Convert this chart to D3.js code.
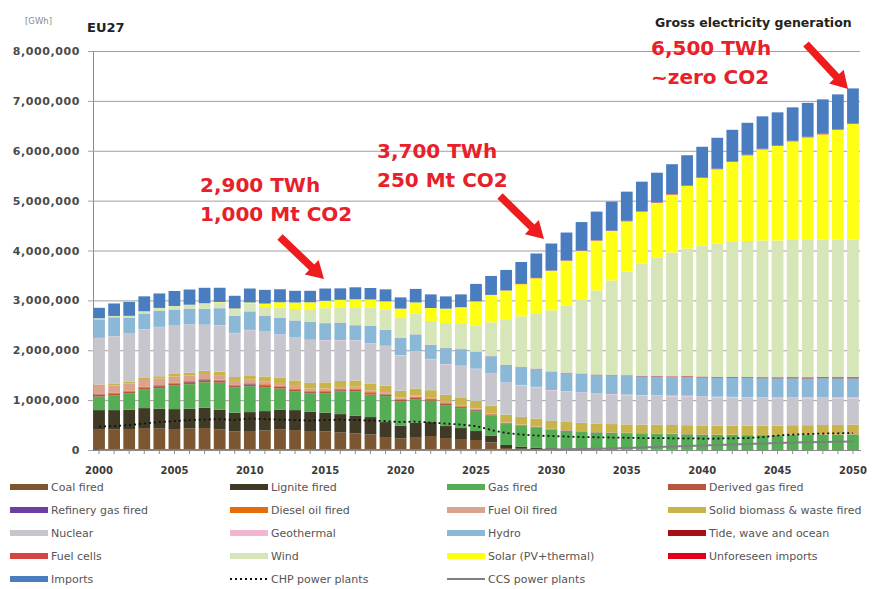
<!DOCTYPE html>
<html><head><meta charset="utf-8">
<script src="https://cdn.jsdelivr.net/npm/d3@7"></script>
<style>body{margin:0;background:#fff}</style>
</head><body><svg id="c" width="882" height="589"></svg>
<script>
// ---------- DATA (TWh; axis is in GWh) ----------
const years = [2000,2001,2002,2003,2004,2005,2006,2007,2008,2009,2010,2011,2012,2013,2014,2015,2016,2017,2018,2019,2020,2021,2022,2023,2024,2025,2026,2027,2028,2029,2030,2031,2032,2033,2034,2035,2036,2037,2038,2039,2040,2041,2042,2043,2044,2045,2046,2047,2048,2049,2050];
const xTickLabels = [2000,2005,2010,2015,2020,2025,2030,2035,2040,2045,2050];
const yTicks = [0,1000000,2000000,3000000,4000000,5000000,6000000,7000000,8000000];

const coal = [420,410,420,440,430,420,430,440,410,370, 380,390,410,400,380,370,350,330,310,260, 230,260,280,240,220,200,150,40,25,15, 10,5,3,0,0,0,0,0,0,0, 0,0,0,0,0,0,0,0,0,0,0];
const lignite = [380,390,390,400,400,400,400,410,400,380, 380,390,400,400,390,380,370,360,350,300, 260,290,280,240,220,180,140,60,45,35, 25,20,15,10,8,6,5,4,3,2, 1,0,0,0,0,0,0,0,0,0,0];
const gas = [270,290,320,370,410,470,490,510,540,500, 520,480,420,380,360,390,450,490,450,520, 490,470,430,420,400,400,400,420,410,400, 370,360,350,340,335,330,325,320,315,310, 305,300,300,295,295,295,300,300,305,305,310];
const derivedGas = [40,40,40,40,40,40,40,40,38,32, 36,36,34,32,32,32,30,30,30,28, 24,26,24,22,20,18,15,12,10,8, 6,5,4,3,2,2,2,2,2,2, 1,1,1,1,1,1,1,1,1,1,1];
const refineryGas = [8,8,8,8,8,8,8,8,8,8, 8,8,8,8,8,8,8,8,8,8, 8,8,8,8,8,6,6,5,5,4, 4,3,3,3,3,3,3,3,3,3, 3,2,2,2,2,2,2,2,2,2,2];
const dieselOil = [15,15,15,15,15,15,15,15,15,15, 15,15,15,15,15,15,15,15,15,15, 15,14,13,12,12,12,10,8,6,5, 4,3,3,3,3,2,2,2,2,2, 2,2,2,2,2,2,2,2,2,2,2];
const fuelOil = [150,140,140,130,130,120,110,100,90,80, 70,60,55,50,45,40,38,36,34,30, 25,25,24,22,20,18,15,12,10,8, 6,5,4,3,3,2,2,2,2,2, 2,2,2,2,2,2,2,2,2,2,2];
const biomass = [30,32,36,42,46,52,58,64,70,78, 88,95,105,110,115,120,122,125,128,132, 135,138,140,142,145,148,150,152,154,156, 158,160,162,164,166,168,170,172,174,176, 178,180,182,184,186,188,190,190,190,190,190];
const nuclear = [930,950,960,975,985,965,960,920,925,880, 905,895,865,855,860,840,815,800,805,790, 710,740,620,610,640,640,640,635,630,625, 610,605,600,595,590,585,580,580,575,575, 570,565,560,560,555,550,545,540,540,535,530];
const geothermal = [5,5,5,5,5,5,6,6,6,6, 6,6,6,6,6,7,7,7,7,7, 7,7,7,7,7,8,8,9,9,10, 10,11,11,12,12,13,13,14,14,15, 15,16,16,17,17,18,18,19,19,20,20];
const hydro = [370,380,320,310,320,320,310,320,340,340, 370,310,330,340,360,340,350,300,350,320, 340,340,280,320,330,340,345,350,355,360, 365,365,370,370,370,375,375,375,375,380, 380,380,380,380,380,380,380,380,380,380,380];
const tide = [1,1,1,1,1,1,1,1,1,1, 1,1,1,1,1,1,1,1,1,1, 1,1,1,1,1,1,2,2,2,3, 3,4,4,5,5,6,6,7,7,8, 8,9,10,10,11,12,12,13,14,14,15];
const fuelCells = [0,0,0,0,0,0,0,0,0,0, 0,0,0,0,0,0,0,0,0,0, 0,0,0,0,0,1,1,2,2,3, 3,4,4,5,5,6,6,7,7,8, 8,8,9,9,10,10,11,11,12,12,13];
const wind = [22,27,35,44,58,70,82,104,118,133, 149,180,204,230,250,300,305,360,370,400, 400,420,480,500,520,528,678,913,1017,1108, 1226,1350,1487,1687,1898,2082,2251,2372,2481,2557, 2627,2675,2706,2728,2739,2740,2747,2750,2753,2757,2755];
const solar = [0,0,0,1,1,2,3,4,7,14, 30,70,110,130,140,150,150,160,160,170, 190,220,260,290,320,480,548,577,646,705, 794,894,973,998,992,1007,1042,1096,1161,1256, 1360,1490,1610,1720,1830,1900,1980,2060,2110,2205,2320];
const unforeseen = [0,0,0,0,0,0,0,0,0,0, 0,0,0,0,0,0,0,0,0,0, 0,0,0,0,0,0,2,3,4,5, 6,6,7,7,8,8,8,9,9,9, 10,10,10,10,10,10,10,10,10,10,10];
const imports = [210,250,280,300,290,300,305,310,285,255, 280,275,260,235,230,245,230,240,230,240, 225,271,273,246,257,350,380,410,440,490, 540,560,570,575,580,585,590,595,600,605, 610,620,630,640,650,660,670,680,690,695,700];
const chp = [470,480,500,530,560,580,600,610,620,600, 630,620,610,600,590,600,610,600,590,580, 560,570,550,530,510,480,400,340,310,290, 280,270,260,255,250,245,240,240,235,235, 230,230,235,240,260,290,310,320,330,335,340];
const ccs = [0,0,0,0,0,0,0,0,0,0, 0,0,0,0,0,0,0,0,0,0, 0,0,0,0,0,0,0,0,0,0, 10,15,20,25,30,40,50,60,70,80, 90,100,110,120,130,140,150,155,160,165,170];

const seriesDefs = [
  {key:"coal", label:"Coal fired", values:coal, color:"#7b5630"},
  {key:"lignite", label:"Lignite fired", values:lignite, color:"#3e3a26"},
  {key:"gas", label:"Gas fired", values:gas, color:"#55ad55"},
  {key:"derived", label:"Derived gas fired", values:derivedGas, color:"#b8573e"},
  {key:"refinery", label:"Refinery gas fired", values:refineryGas, color:"#6b3fa0"},
  {key:"diesel", label:"Diesel oil fired", values:dieselOil, color:"#e46c0a"},
  {key:"fueloil", label:"Fuel Oil fired", values:fuelOil, color:"#d9a38e"},
  {key:"biomass", label:"Solid biomass & waste fired", values:biomass, color:"#c8b44a"},
  {key:"nuclear", label:"Nuclear", values:nuclear, color:"#c6c6cc"},
  {key:"geothermal", label:"Geothermal", values:geothermal, color:"#f2b6d2"},
  {key:"hydro", label:"Hydro", values:hydro, color:"#8cb8d8"},
  {key:"tide", label:"Tide, wave and ocean", values:tide, color:"#a50f15"},
  {key:"fuelcells", label:"Fuel cells", values:fuelCells, color:"#d64541"},
  {key:"wind", label:"Wind", values:wind, color:"#d6e6b8"},
  {key:"solar", label:"Solar (PV+thermal)", values:solar, color:"#ffff14"},
  {key:"unforeseen", label:"Unforeseen imports", values:unforeseen, color:"#e3001b"},
  {key:"imports", label:"Imports", values:imports, color:"#4a7dc0"}
];

// ---------- CHART ----------
const svg = d3.select("#c");
const W = 882, H = 589;
svg.append("rect").attr("width",W).attr("height",H).attr("fill","#fff");

const x = d3.scaleBand().domain(years).range([91.5, 860.5]).paddingInner(0.22).paddingOuter(0.11);
const y = d3.scaleLinear().domain([0, 8000000]).range([450, 51]);

const table = years.map((yr,i) => {
  const row = {year: yr};
  seriesDefs.forEach(s => row[s.key] = s.values[i] * 1000);
  return row;
});
const stack = d3.stack().keys(seriesDefs.map(s => s.key))(table);

// gridlines + y axis
const yAxis = d3.axisLeft(y).tickValues(yTicks).tickFormat(d3.format(","))
  .tickSizeInner(-(860 - 93)).tickSizeOuter(0).tickPadding(13);
const gy = svg.append("g").attr("transform","translate(93,0)").call(yAxis);
gy.select(".domain").attr("stroke","#8a8a8a");
gy.selectAll(".tick line").attr("stroke","#a0a0a0").attr("x1",-5);
gy.selectAll(".tick text").attr("font-family","DejaVu Sans").attr("font-weight","bold")
  .attr("font-size","11px").attr("letter-spacing","0.6px").attr("fill","#4a4a4a");

// bars
const bw = x.bandwidth();
svg.append("g").selectAll("g").data(stack).join("g")
  .attr("fill", (d,i) => seriesDefs[i].color)
  .selectAll("rect").data(d => d).join("rect")
  .attr("x", d => x(d.data.year))
  .attr("y", d => y(d[1]))
  .attr("width", bw)
  .attr("height", d => Math.max(0, y(d[0]) - y(d[1])));

// lines
const lineGen = d3.line().x((d,i) => x(years[i]) + bw/2).y(d => y(d * 1000));
svg.append("path").datum(ccs).attr("d", lineGen).attr("fill","none")
  .attr("stroke","#7f7f7f").attr("stroke-width",2);
svg.append("path").datum(chp).attr("d", lineGen).attr("fill","none")
  .attr("stroke","#111").attr("stroke-width",1.8).attr("stroke-dasharray","2,3");

// x axis
const xAxis = d3.axisBottom(x).tickValues(years)
  .tickFormat(d => xTickLabels.includes(d) ? String(d) : "")
  .tickSizeInner(4).tickSizeOuter(0).tickPadding(13);
const gx = svg.append("g").attr("transform","translate(0,450)").call(xAxis);
gx.select(".domain").attr("stroke","#8a8a8a");
gx.selectAll(".tick line").attr("stroke","#8a8a8a");
gx.selectAll(".tick text").attr("font-family","DejaVu Sans").attr("font-weight","bold")
  .attr("font-size","10px").attr("fill","#3a3a3a");

// titles
svg.append("text").attr("x",25).attr("y",24).text("[GWh]")
  .attr("font-family","DejaVu Sans").attr("font-size","8.5px").attr("fill","#8a8a8a");
svg.append("text").attr("x",87).attr("y",32).text("EU27")
  .attr("font-family","DejaVu Sans").attr("font-weight","bold").attr("font-size","13px").attr("fill","#222");
svg.append("text").attr("x",655).attr("y",27).text("Gross electricity generation")
  .attr("font-family","DejaVu Sans").attr("font-weight","bold").attr("font-size","12.5px").attr("fill","#222");

// annotations
const annotations = [
  {lines:["2,900 TWh","1,000 Mt CO2"], x:200, y:192, arrow:[280,237,324,279]},
  {lines:["3,700 TWh","250 Mt CO2"], x:377, y:158, arrow:[500,196,544,239]},
  {lines:["6,500 TWh","~zero CO2"], x:651, y:55, arrow:[806,44,848,89]}
];
const red = "#e8202a";
annotations.forEach(a => {
  a.lines.forEach((t,i) => {
    svg.append("text").attr("x",a.x).attr("y",a.y + i*29).text(t)
      .attr("font-family","DejaVu Sans").attr("font-weight","bold")
      .attr("font-size","20px").attr("fill",red);
  });
  const [x1,y1,x2,y2] = a.arrow;
  const dx = x2-x1, dy = y2-y1, L = Math.hypot(dx,dy);
  const ux = dx/L, uy = dy/L, px = -uy, py = ux;
  const hl = 17, hw = 10, sw = 3.8;
  const bx = x2 - ux*hl, by = y2 - uy*hl;
  const pts = [
    [x1+px*sw, y1+py*sw], [bx+px*sw, by+py*sw], [bx+px*hw, by+py*hw], [x2,y2],
    [bx-px*hw, by-py*hw], [bx-px*sw, by-py*sw], [x1-px*sw, y1-py*sw]
  ];
  svg.append("polygon").attr("points", pts.map(p=>p.join(",")).join(" ")).attr("fill","#ee1c1c");
});

// legend
const legendItems = seriesDefs.map(s => ({label:s.label, color:s.color, type:"rect"}))
  .concat([{label:"CHP power plants", type:"dot"}, {label:"CCS power plants", type:"line"}]);
const colX = [10, 230, 447, 668];
const rowY = [487, 510, 533, 556, 579];
const lg = svg.append("g");
legendItems.forEach((it, i) => {
  const cx = colX[i % 4], cy = rowY[Math.floor(i / 4)];
  if (it.type === "rect") {
    lg.append("rect").attr("x",cx).attr("y",cy-3).attr("width",38).attr("height",6).attr("fill",it.color);
  } else if (it.type === "dot") {
    lg.append("line").attr("x1",cx).attr("x2",cx+38).attr("y1",cy).attr("y2",cy)
      .attr("stroke","#111").attr("stroke-width",1.8).attr("stroke-dasharray","2,3");
  } else {
    lg.append("line").attr("x1",cx).attr("x2",cx+38).attr("y1",cy).attr("y2",cy)
      .attr("stroke","#7f7f7f").attr("stroke-width",2);
  }
  lg.append("text").attr("x",cx+41).attr("y",cy+4).text(it.label)
    .attr("font-family","DejaVu Sans").attr("font-size","11px").attr("fill","#555");
});
</script>
</body></html>
